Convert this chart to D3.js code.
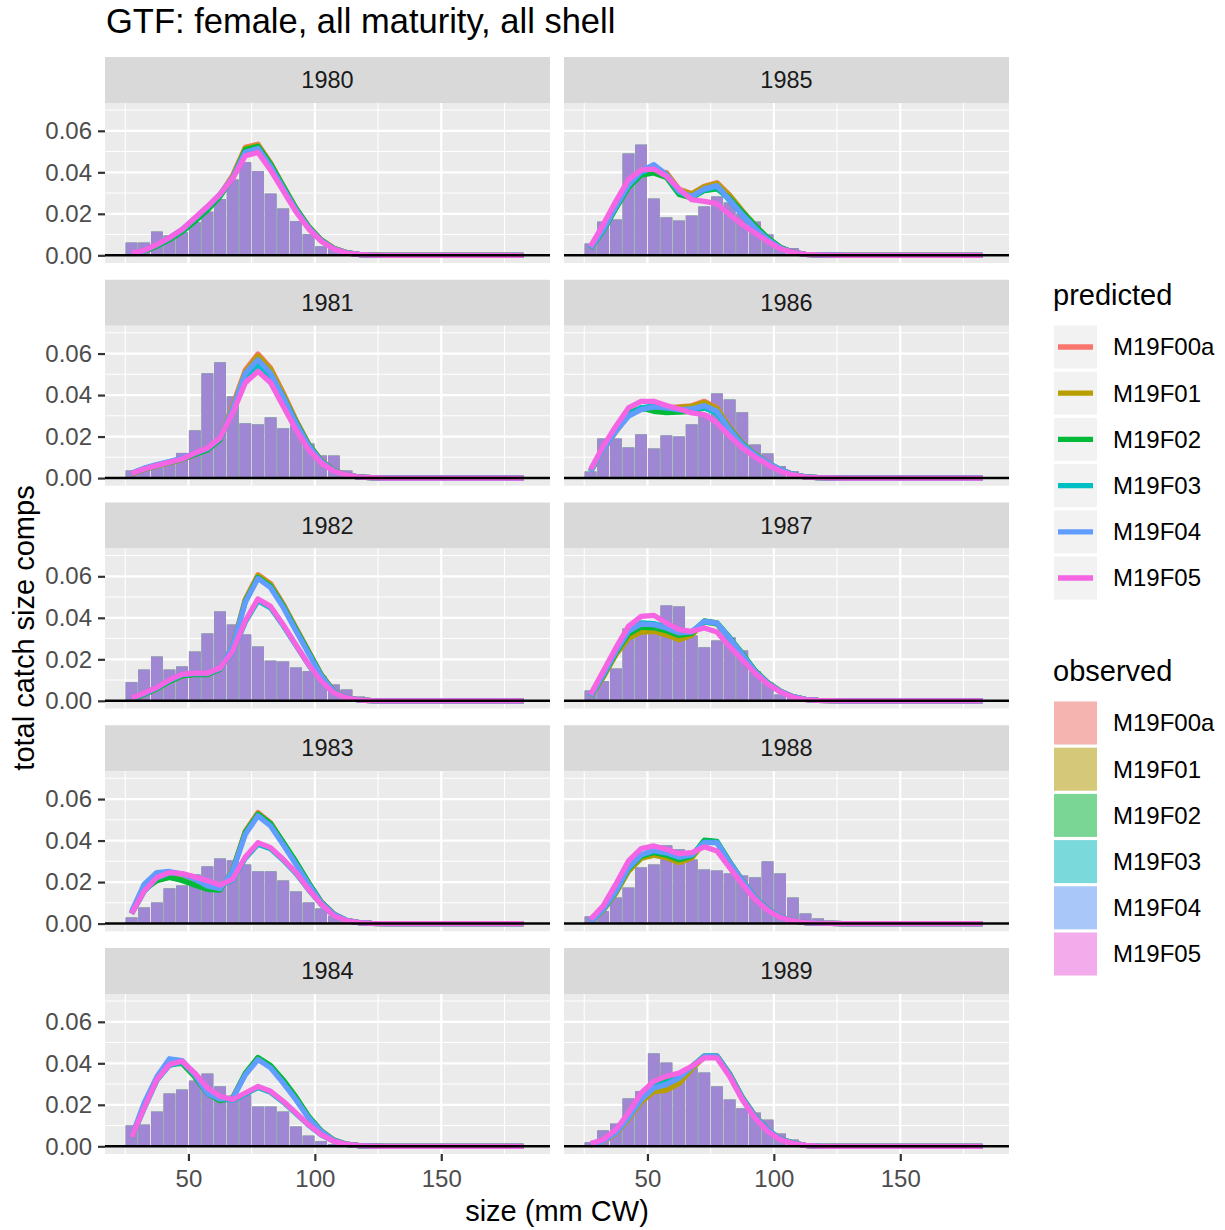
<!DOCTYPE html>
<html><head><meta charset="utf-8">
<script src="https://cdn.jsdelivr.net/npm/d3@7"></script>
<style>body{margin:0;background:#fff} text{font-family:"Liberation Sans",Arial,Helvetica,sans-serif}</style>
</head><body><svg id="chart" width="1225" height="1230"></svg>
<script>
// ---------- data ----------
const sizes = [27.5,32.5,37.5,42.5,47.5,52.5,57.5,62.5,67.5,72.5,77.5,82.5,87.5,92.5,97.5,102.5,107.5,112.5,117.5,122.5,127.5,132.5,137.5,142.5,147.5,152.5,157.5,162.5,167.5,172.5,177.5,182.5];
const binWidth = 5;
const years = ["1980","1981","1982","1983","1984","1985","1986","1987","1988","1989"];
const models = ["M19F00a","M19F01","M19F02","M19F03","M19F04","M19F05"];
const modelColors = ["#F8766D","#B79F00","#00BA38","#00BFC4","#619CFF","#F564E3"];
const yTicks = [0,0.02,0.04,0.06];
const yTickLabels = ["0.00","0.02","0.04","0.06"];
const yMinor = [0.01,0.03,0.05,0.07];
const xTicks = [50,100,150];
const xTickLabels = ["50","100","150"];
const xMinor = [25,75,125,175];

const obs1980 = [0.0061,0.0061,0.0114,0.0095,0.011,0.016,0.021,0.027,0.0365,0.0448,0.0405,0.0297,0.0225,0.0164,0.0101,0.0043,0.0037,0.0012,0.0005,0.0002,0,0,0,0,0,0,0,0,0,0,0,0];
const pred1980_F00a = [0.0009,0.0021,0.0046,0.0078,0.0118,0.017,0.0226,0.0292,0.0385,0.052,0.0535,0.0445,0.0335,0.0228,0.014,0.0075,0.0034,0.0013,0.0005,0.0002,0,0,0,0,0,0,0,0,0,0,0,0];
const pred1980_F01 = [0.0009,0.0021,0.0046,0.0078,0.0117,0.0168,0.0224,0.029,0.038,0.0515,0.053,0.0442,0.0333,0.0227,0.0139,0.0074,0.0034,0.0013,0.0005,0.0002,0,0,0,0,0,0,0,0,0,0,0,0];
const pred1980_F02 = [0.0008,0.002,0.0044,0.0075,0.0113,0.0163,0.0218,0.0283,0.0375,0.051,0.0525,0.044,0.0333,0.0227,0.0139,0.0074,0.0033,0.0012,0.0004,0.0001,0,0,0,0,0,0,0,0,0,0,0,0];
const pred1980_F03 = [0.001,0.0023,0.005,0.0083,0.0122,0.0176,0.0232,0.0293,0.0372,0.0495,0.051,0.0425,0.032,0.0218,0.0133,0.007,0.0031,0.0012,0.0004,0.0001,0,0,0,0,0,0,0,0,0,0,0,0];
const pred1980_F04 = [0.001,0.0023,0.0051,0.0084,0.0124,0.0178,0.0234,0.0295,0.0375,0.0497,0.0515,0.0428,0.0322,0.0219,0.0133,0.007,0.0031,0.0012,0.0004,0.0001,0,0,0,0,0,0,0,0,0,0,0,0];
const pred1980_F05 = [0.0011,0.0024,0.0052,0.0085,0.0125,0.018,0.0235,0.0295,0.037,0.048,0.0496,0.041,0.031,0.021,0.0128,0.0068,0.003,0.0011,0.0004,0.0001,0,0,0,0,0,0,0,0,0,0,0,0];

const obs1981 = [0.0036,0.004,0.005,0.0075,0.0121,0.0229,0.0504,0.0557,0.0393,0.0263,0.0258,0.0292,0.0239,0.0253,0.0166,0.0108,0.0108,0.0036,0.0017,0.0003,0,0,0,0,0,0,0,0,0,0,0,0];
const pred1981_F00a = [0.002,0.0042,0.0058,0.0074,0.009,0.0115,0.0138,0.019,0.035,0.052,0.0598,0.053,0.041,0.028,0.0165,0.0085,0.0037,0.0015,0.0005,0.0002,0,0,0,0,0,0,0,0,0,0,0,0];
const pred1981_F01 = [0.002,0.0042,0.0058,0.0074,0.009,0.0115,0.0138,0.0188,0.0345,0.0512,0.0588,0.0523,0.0405,0.0277,0.0163,0.0084,0.0037,0.0015,0.0005,0.0002,0,0,0,0,0,0,0,0,0,0,0,0];
const pred1981_F02 = [0.0021,0.0043,0.0059,0.0075,0.009,0.0113,0.0135,0.0185,0.0332,0.049,0.0548,0.0495,0.0392,0.0272,0.0162,0.0084,0.0036,0.0015,0.0005,0.0002,0,0,0,0,0,0,0,0,0,0,0,0];
const pred1981_F03 = [0.0023,0.0046,0.0062,0.0078,0.0094,0.0119,0.0142,0.0192,0.0325,0.0485,0.0535,0.0478,0.0365,0.0248,0.0146,0.0077,0.0034,0.0015,0.0005,0.0002,0,0,0,0,0,0,0,0,0,0,0,0];
const pred1981_F04 = [0.0024,0.0048,0.0065,0.008,0.0096,0.012,0.0143,0.0192,0.0335,0.0505,0.057,0.0505,0.039,0.0265,0.0156,0.008,0.0035,0.0014,0.0005,0.0002,0,0,0,0,0,0,0,0,0,0,0,0];
const pred1981_F05 = [0.0022,0.0044,0.006,0.0076,0.0092,0.012,0.0145,0.0194,0.0314,0.0459,0.0515,0.0459,0.0346,0.0234,0.0137,0.0073,0.0033,0.0015,0.0005,0.0002,0,0,0,0,0,0,0,0,0,0,0,0];

const obs1982 = [0.0089,0.015,0.0213,0.015,0.0165,0.0237,0.0324,0.043,0.0367,0.0319,0.0261,0.0193,0.0189,0.016,0.0142,0.0117,0.0078,0.0054,0.002,0.0005,0,0,0,0,0,0,0,0,0,0,0,0];
const pred1982_F00a = [0.001,0.0032,0.006,0.0095,0.0122,0.0128,0.0128,0.0155,0.0265,0.049,0.0608,0.0565,0.0466,0.0352,0.024,0.0127,0.0047,0.0015,0.0004,0.0001,0,0,0,0,0,0,0,0,0,0,0,0];
const pred1982_F01 = [0.001,0.0032,0.0059,0.0094,0.0121,0.0127,0.0127,0.0154,0.0263,0.0486,0.0603,0.056,0.0462,0.0349,0.0238,0.0126,0.0046,0.0015,0.0004,0.0001,0,0,0,0,0,0,0,0,0,0,0,0];
const pred1982_F02 = [0.0009,0.0031,0.0058,0.0093,0.012,0.0126,0.0126,0.0152,0.026,0.048,0.0595,0.0553,0.0457,0.0346,0.0236,0.0125,0.0046,0.0015,0.0004,0.0001,0,0,0,0,0,0,0,0,0,0,0,0];
const pred1982_F03 = [0.0013,0.0037,0.0064,0.0101,0.0128,0.0133,0.0133,0.0156,0.0235,0.038,0.0482,0.0447,0.0362,0.0267,0.0173,0.0093,0.0038,0.0014,0.0004,0.0001,0,0,0,0,0,0,0,0,0,0,0,0];
const pred1982_F04 = [0.0012,0.0035,0.0063,0.0099,0.0126,0.0131,0.0131,0.0157,0.0262,0.0475,0.059,0.0545,0.045,0.0338,0.0228,0.012,0.0044,0.0015,0.0004,0.0001,0,0,0,0,0,0,0,0,0,0,0,0];
const pred1982_F05 = [0.0014,0.0038,0.0065,0.0102,0.0129,0.0134,0.0134,0.0158,0.0239,0.0386,0.0491,0.0455,0.0367,0.027,0.0175,0.0094,0.0038,0.0014,0.0004,0.0001,0,0,0,0,0,0,0,0,0,0,0,0];

const obs1983 = [0.0029,0.0077,0.0101,0.0169,0.0183,0.0236,0.0275,0.0313,0.0304,0.0284,0.0251,0.0251,0.0207,0.0154,0.0101,0.0072,0.0037,0.0015,0.0005,0.0001,0,0,0,0,0,0,0,0,0,0,0,0];
const pred1983_F00a = [0.005,0.0165,0.021,0.0226,0.0212,0.019,0.017,0.0165,0.026,0.0445,0.0535,0.0485,0.039,0.0295,0.0195,0.0104,0.0046,0.0015,0.0005,0.0001,0,0,0,0,0,0,0,0,0,0,0,0];
const pred1983_F01 = [0.005,0.0164,0.0209,0.0225,0.0211,0.0189,0.0169,0.0164,0.0258,0.0442,0.053,0.0482,0.0389,0.0295,0.0195,0.0104,0.0046,0.0015,0.0005,0.0001,0,0,0,0,0,0,0,0,0,0,0,0];
const pred1983_F02 = [0.0049,0.0162,0.0207,0.0222,0.0208,0.0186,0.0165,0.0161,0.0256,0.044,0.0527,0.0482,0.0392,0.0299,0.0198,0.0105,0.0046,0.0015,0.0005,0.0001,0,0,0,0,0,0,0,0,0,0,0,0];
const pred1983_F03 = [0.0047,0.0155,0.022,0.0244,0.0239,0.0223,0.0204,0.0184,0.021,0.0315,0.0382,0.036,0.0305,0.0242,0.0163,0.0092,0.0037,0.0013,0.0004,0.0001,0,0,0,0,0,0,0,0,0,0,0,0];
const pred1983_F04 = [0.0058,0.019,0.0246,0.0251,0.0238,0.0214,0.0181,0.0168,0.0254,0.043,0.0519,0.047,0.038,0.0286,0.019,0.0101,0.0045,0.0015,0.0005,0.0001,0,0,0,0,0,0,0,0,0,0,0,0];
const pred1983_F05 = [0.0048,0.0157,0.0222,0.0246,0.0241,0.0225,0.0206,0.0186,0.0214,0.0321,0.039,0.0366,0.031,0.0246,0.0165,0.0093,0.0037,0.0013,0.0004,0.0001,0,0,0,0,0,0,0,0,0,0,0,0];

const obs1984 = [0.01,0.0104,0.0167,0.0254,0.0273,0.0316,0.035,0.0288,0.0235,0.0249,0.0191,0.0191,0.0167,0.0095,0.0051,0.0024,0.001,0.0004,0.0001,0,0,0,0,0,0,0,0,0,0,0,0,0];
const pred1984_F00a = [0.0043,0.0195,0.0325,0.04,0.0405,0.034,0.026,0.0222,0.0235,0.035,0.0425,0.0385,0.0315,0.0235,0.0142,0.0074,0.003,0.001,0.0003,0.0001,0,0,0,0,0,0,0,0,0,0,0,0];
const pred1984_F01 = [0.0043,0.0194,0.0323,0.0398,0.0403,0.0338,0.0259,0.0221,0.0234,0.0348,0.0423,0.0384,0.0316,0.0236,0.0143,0.0074,0.003,0.001,0.0003,0.0001,0,0,0,0,0,0,0,0,0,0,0,0];
const pred1984_F02 = [0.0042,0.0192,0.032,0.0395,0.04,0.0335,0.0255,0.022,0.0232,0.0352,0.0428,0.039,0.032,0.0238,0.0145,0.0075,0.003,0.001,0.0003,0.0001,0,0,0,0,0,0,0,0,0,0,0,0];
const pred1984_F03 = [0.0042,0.0183,0.0318,0.039,0.0406,0.035,0.0278,0.0238,0.0221,0.0252,0.0283,0.026,0.0213,0.0158,0.0102,0.0055,0.0024,0.0009,0.0003,0.0001,0,0,0,0,0,0,0,0,0,0,0,0];
const pred1984_F04 = [0.0045,0.0209,0.0335,0.0422,0.0413,0.0345,0.0257,0.0228,0.0232,0.0345,0.0418,0.0378,0.0305,0.0225,0.0137,0.0072,0.0029,0.001,0.0003,0.0001,0,0,0,0,0,0,0,0,0,0,0,0];
const pred1984_F05 = [0.0043,0.0185,0.0321,0.0394,0.041,0.0353,0.0281,0.0241,0.0225,0.0257,0.0289,0.0265,0.0217,0.0161,0.0104,0.0056,0.0024,0.0009,0.0003,0.0001,0,0,0,0,0,0,0,0,0,0,0,0];

const obs1985 = [0.0056,0.0162,0.0172,0.049,0.0533,0.0273,0.0182,0.0167,0.0191,0.0235,0.0283,0.0254,0.0201,0.0162,0.01,0.0043,0.0035,0.0012,0.0004,0.0001,0,0,0,0,0,0,0,0,0,0,0,0];
const pred1985_F00a = [0.0034,0.012,0.023,0.0332,0.039,0.0405,0.0398,0.0318,0.0297,0.0333,0.035,0.029,0.0215,0.0145,0.0083,0.0038,0.0015,0.0005,0.0002,0.0001,0,0,0,0,0,0,0,0,0,0,0,0];
const pred1985_F01 = [0.0034,0.012,0.0229,0.033,0.0388,0.0402,0.0395,0.0316,0.0295,0.033,0.0346,0.0288,0.0214,0.0145,0.0083,0.0038,0.0015,0.0005,0.0002,0.0001,0,0,0,0,0,0,0,0,0,0,0,0];
const pred1985_F02 = [0.0033,0.0118,0.0226,0.0327,0.0386,0.0397,0.0375,0.0293,0.0277,0.0312,0.032,0.0275,0.021,0.0146,0.0085,0.0039,0.0015,0.0005,0.0002,0.0001,0,0,0,0,0,0,0,0,0,0,0,0];
const pred1985_F03 = [0.0035,0.0123,0.0234,0.0337,0.0398,0.0425,0.0385,0.0305,0.028,0.0315,0.033,0.0265,0.0195,0.0132,0.0076,0.0035,0.0014,0.0005,0.0002,0.0001,0,0,0,0,0,0,0,0,0,0,0,0];
const pred1985_F04 = [0.0035,0.0124,0.0236,0.034,0.0405,0.0437,0.0389,0.0308,0.0284,0.032,0.0336,0.0268,0.0196,0.0132,0.0076,0.0035,0.0014,0.0005,0.0002,0.0001,0,0,0,0,0,0,0,0,0,0,0,0];
const pred1985_F05 = [0.0043,0.0148,0.026,0.0365,0.041,0.0416,0.0381,0.032,0.0268,0.026,0.0249,0.0196,0.0148,0.0108,0.0067,0.0032,0.0014,0.0005,0.0002,0.0001,0,0,0,0,0,0,0,0,0,0,0,0];

const obs1986 = [0.0031,0.019,0.019,0.0147,0.021,0.0142,0.0205,0.02,0.0258,0.031,0.0407,0.0378,0.0316,0.0161,0.0118,0.0057,0.0033,0.0012,0.0004,0.0001,0,0,0,0,0,0,0,0,0,0,0,0];
const pred1986_F00a = [0.0032,0.0135,0.0225,0.0305,0.0335,0.0335,0.0338,0.0343,0.0348,0.037,0.0338,0.0245,0.0168,0.0116,0.0074,0.0041,0.0017,0.0006,0.0002,0.0001,0,0,0,0,0,0,0,0,0,0,0,0];
const pred1986_F01 = [0.0032,0.0135,0.0224,0.0304,0.0333,0.0333,0.0336,0.0341,0.0345,0.0365,0.0335,0.0243,0.0167,0.0116,0.0074,0.0041,0.0017,0.0006,0.0002,0.0001,0,0,0,0,0,0,0,0,0,0,0,0];
const pred1986_F02 = [0.0034,0.014,0.0232,0.0314,0.0338,0.0322,0.0315,0.0318,0.0322,0.0338,0.0318,0.0238,0.0166,0.0115,0.0073,0.0041,0.0017,0.0006,0.0002,0.0001,0,0,0,0,0,0,0,0,0,0,0,0];
const pred1986_F03 = [0.0035,0.014,0.023,0.0305,0.0338,0.0348,0.034,0.0328,0.0328,0.034,0.0312,0.0228,0.0158,0.0111,0.0072,0.004,0.0017,0.0006,0.0002,0.0001,0,0,0,0,0,0,0,0,0,0,0,0];
const pred1986_F04 = [0.0033,0.0137,0.0226,0.0298,0.033,0.0343,0.0338,0.033,0.0333,0.0349,0.0322,0.0234,0.0161,0.0113,0.0073,0.0041,0.0017,0.0006,0.0002,0.0001,0,0,0,0,0,0,0,0,0,0,0,0];
const pred1986_F05 = [0.0041,0.0153,0.025,0.0338,0.037,0.037,0.035,0.0333,0.0314,0.0306,0.0266,0.0202,0.0145,0.0102,0.0065,0.0033,0.0015,0.0005,0.0002,0.0001,0,0,0,0,0,0,0,0,0,0,0,0];

const obs1987 = [0.0049,0.0094,0.0155,0.0348,0.0332,0.0324,0.0459,0.0454,0.0314,0.0257,0.029,0.0305,0.0242,0.0141,0.0088,0.003,0.0019,0.0014,0.0005,0.0001,0,0,0,0,0,0,0,0,0,0,0,0];
const pred1987_F00a = [0.0019,0.0115,0.0225,0.0305,0.0334,0.0338,0.032,0.0296,0.0318,0.0384,0.0372,0.0303,0.0225,0.0145,0.0088,0.0047,0.002,0.0007,0.0002,0.0001,0,0,0,0,0,0,0,0,0,0,0,0];
const pred1987_F01 = [0.0019,0.0114,0.0222,0.0302,0.0331,0.0335,0.0318,0.0294,0.0316,0.038,0.037,0.0302,0.0225,0.0145,0.0088,0.0047,0.002,0.0007,0.0002,0.0001,0,0,0,0,0,0,0,0,0,0,0,0];
const pred1987_F02 = [0.0021,0.012,0.0232,0.0322,0.0355,0.0352,0.0338,0.0315,0.0325,0.0385,0.0376,0.0306,0.0228,0.0147,0.0089,0.0047,0.002,0.0007,0.0002,0.0001,0,0,0,0,0,0,0,0,0,0,0,0];
const pred1987_F03 = [0.0023,0.0128,0.024,0.0338,0.0375,0.0372,0.0355,0.033,0.0333,0.038,0.0372,0.03,0.0221,0.0141,0.0085,0.0045,0.0019,0.0007,0.0002,0.0001,0,0,0,0,0,0,0,0,0,0,0,0];
const pred1987_F04 = [0.0022,0.0126,0.0238,0.0335,0.037,0.0367,0.0351,0.0327,0.0332,0.0383,0.0375,0.0303,0.0223,0.0142,0.0086,0.0046,0.002,0.0007,0.0002,0.0001,0,0,0,0,0,0,0,0,0,0,0,0];
const pred1987_F05 = [0.003,0.0142,0.0255,0.0359,0.0407,0.0412,0.0375,0.0343,0.0335,0.0351,0.0332,0.0262,0.0198,0.0134,0.0081,0.0043,0.0017,0.0006,0.0002,0.0001,0,0,0,0,0,0,0,0,0,0,0,0];

const obs1988 = [0.0034,0.006,0.0125,0.0173,0.027,0.0284,0.0376,0.0357,0.0308,0.026,0.0255,0.0241,0.0231,0.0222,0.0299,0.0241,0.0125,0.0048,0.0024,0.0005,0,0,0,0,0,0,0,0,0,0,0,0];
const pred1988_F00a = [0.001,0.0064,0.0148,0.0255,0.0316,0.0333,0.032,0.0296,0.0318,0.0395,0.0393,0.0298,0.0208,0.0126,0.007,0.0032,0.0013,0.0005,0.0002,0.0001,0,0,0,0,0,0,0,0,0,0,0,0];
const pred1988_F01 = [0.001,0.0063,0.0146,0.0252,0.0314,0.033,0.0318,0.0294,0.0316,0.0393,0.039,0.0296,0.0207,0.0126,0.007,0.0032,0.0013,0.0005,0.0002,0.0001,0,0,0,0,0,0,0,0,0,0,0,0];
const pred1988_F02 = [0.0011,0.0067,0.0154,0.0264,0.0324,0.0343,0.033,0.0308,0.0325,0.0402,0.0396,0.0298,0.0208,0.0126,0.007,0.0032,0.0013,0.0005,0.0002,0.0001,0,0,0,0,0,0,0,0,0,0,0,0];
const pred1988_F03 = [0.0011,0.0068,0.0156,0.0268,0.033,0.035,0.034,0.0318,0.033,0.0392,0.0392,0.0295,0.0206,0.0125,0.0069,0.0032,0.0013,0.0005,0.0002,0.0001,0,0,0,0,0,0,0,0,0,0,0,0];
const pred1988_F04 = [0.001,0.0069,0.0157,0.027,0.0331,0.0353,0.0342,0.0321,0.0331,0.039,0.039,0.0294,0.0206,0.0125,0.0069,0.0032,0.0013,0.0005,0.0002,0.0001,0,0,0,0,0,0,0,0,0,0,0,0];
const pred1988_F05 = [0.0021,0.0085,0.019,0.0302,0.0361,0.0374,0.0358,0.0337,0.0342,0.037,0.035,0.027,0.019,0.0117,0.0064,0.0029,0.0013,0.0005,0.0002,0.0001,0,0,0,0,0,0,0,0,0,0,0,0];

const obs1989 = [0.0019,0.0076,0.0109,0.023,0.0265,0.0447,0.0403,0.0345,0.0379,0.0355,0.0288,0.0225,0.0182,0.0162,0.0128,0.0061,0.0032,0.0013,0.0004,0.0001,0,0,0,0,0,0,0,0,0,0,0,0];
const pred1989_F00a = [0.0007,0.0022,0.006,0.013,0.0215,0.0265,0.0273,0.0305,0.0375,0.0432,0.0435,0.0348,0.0235,0.0147,0.0081,0.0036,0.0016,0.0005,0.0001,0,0,0,0,0,0,0,0,0,0,0,0,0];
const pred1989_F01 = [0.0007,0.0022,0.006,0.013,0.0214,0.0263,0.0271,0.0303,0.0373,0.043,0.0433,0.0347,0.0235,0.0147,0.0081,0.0036,0.0016,0.0005,0.0001,0,0,0,0,0,0,0,0,0,0,0,0,0];
const pred1989_F02 = [0.001,0.0028,0.0072,0.0148,0.0242,0.0298,0.0313,0.0335,0.0383,0.0436,0.0436,0.035,0.0236,0.0147,0.0081,0.0036,0.0016,0.0005,0.0001,0,0,0,0,0,0,0,0,0,0,0,0,0];
const pred1989_F03 = [0.0009,0.0026,0.0068,0.0142,0.0233,0.029,0.0305,0.0333,0.0384,0.0433,0.0433,0.0344,0.0232,0.0144,0.0079,0.0035,0.0015,0.0005,0.0001,0,0,0,0,0,0,0,0,0,0,0,0,0];
const pred1989_F04 = [0.0008,0.0024,0.0064,0.0137,0.0225,0.0281,0.0297,0.0329,0.0382,0.0434,0.0434,0.0345,0.0233,0.0145,0.008,0.0035,0.0016,0.0005,0.0001,0,0,0,0,0,0,0,0,0,0,0,0,0];
const pred1989_F05 = [0.0013,0.0032,0.008,0.0161,0.0257,0.0313,0.0337,0.0353,0.0386,0.0426,0.0426,0.0337,0.0225,0.0137,0.0072,0.0032,0.0013,0.0004,0.0001,0,0,0,0,0,0,0,0,0,0,0,0,0];

const observedByYear = [obs1980,obs1981,obs1982,obs1983,obs1984,obs1985,obs1986,obs1987,obs1988,obs1989];
const predictedByYear = [
  [pred1980_F00a,pred1980_F01,pred1980_F02,pred1980_F03,pred1980_F04,pred1980_F05],
  [pred1981_F00a,pred1981_F01,pred1981_F02,pred1981_F03,pred1981_F04,pred1981_F05],
  [pred1982_F00a,pred1982_F01,pred1982_F02,pred1982_F03,pred1982_F04,pred1982_F05],
  [pred1983_F00a,pred1983_F01,pred1983_F02,pred1983_F03,pred1983_F04,pred1983_F05],
  [pred1984_F00a,pred1984_F01,pred1984_F02,pred1984_F03,pred1984_F04,pred1984_F05],
  [pred1985_F00a,pred1985_F01,pred1985_F02,pred1985_F03,pred1985_F04,pred1985_F05],
  [pred1986_F00a,pred1986_F01,pred1986_F02,pred1986_F03,pred1986_F04,pred1986_F05],
  [pred1987_F00a,pred1987_F01,pred1987_F02,pred1987_F03,pred1987_F04,pred1987_F05],
  [pred1988_F00a,pred1988_F01,pred1988_F02,pred1988_F03,pred1988_F04,pred1988_F05],
  [pred1989_F00a,pred1989_F01,pred1989_F02,pred1989_F03,pred1989_F04,pred1989_F05]
];

// ---------- layout ----------
const svg = d3.select("#chart");
svg.append("rect").attr("width",1225).attr("height",1230).attr("fill","#ffffff");

const panelW = 445, panelH = 160, stripH = 46, rowStep = 222.75;
const colX = [105, 564];
const firstStripY = 57;
const FONT = '"Liberation Sans", Arial, Helvetica, sans-serif';

const x = d3.scaleLinear().domain([17,193]).range([0,panelW]);
const y = d3.scaleLinear().domain([-0.0037,0.0734]).range([panelH,0]);
const line = d3.line().x(d => x(d.s)).y(d => y(d.v)).curve(d3.curveLinear);

years.forEach((yr, i) => {
  const col = Math.floor(i / 5), row = i % 5;
  const px = colX[col];
  const stripY = firstStripY + row * rowStep;
  const py = stripY + stripH;

  // strip
  svg.append("rect").attr("x",px).attr("y",stripY).attr("width",panelW).attr("height",stripH).attr("fill","#d9d9d9");
  svg.append("text").attr("x",px+panelW/2).attr("y",stripY+stripH/2).attr("dy","0.35em")
    .attr("text-anchor","middle").attr("font-size",23.5).attr("fill","#1a1a1a").text(yr);

  const g = svg.append("g").attr("transform",`translate(${px},${py})`);
  g.append("rect").attr("width",panelW).attr("height",panelH).attr("fill","#ebebeb");

  // grid
  g.selectAll(".xmin").data(xMinor).join("line")
    .attr("x1",d=>x(d)).attr("x2",d=>x(d)).attr("y1",0).attr("y2",panelH)
    .attr("stroke","#ffffff").attr("stroke-width",1.1);
  g.selectAll(".ymin").data(yMinor).join("line")
    .attr("y1",d=>y(d)).attr("y2",d=>y(d)).attr("x1",0).attr("x2",panelW)
    .attr("stroke","#ffffff").attr("stroke-width",1.1);
  g.selectAll(".xmaj").data(xTicks).join("line")
    .attr("x1",d=>x(d)).attr("x2",d=>x(d)).attr("y1",0).attr("y2",panelH)
    .attr("stroke","#ffffff").attr("stroke-width",2.2);
  g.selectAll(".ymaj").data(yTicks).join("line")
    .attr("y1",d=>y(d)).attr("y2",d=>y(d)).attr("x1",0).attr("x2",panelW)
    .attr("stroke","#ffffff").attr("stroke-width",2.2);

  // observed bars: one semi-transparent layer per model
  const obs = observedByYear[i];
  const barData = sizes.map((s,k) => ({s, v: obs[k]})).filter(d => d.v > 0);
  models.forEach((m, mi) => {
    g.append("g").selectAll("rect").data(barData).join("rect")
      .attr("x", d => x(d.s - binWidth/2) + 0.5)
      .attr("width", d => x(d.s + binWidth/2) - x(d.s - binWidth/2) - 1)
      .attr("y", d => y(d.v))
      .attr("height", d => y(0) - y(d.v))
      .attr("fill", modelColors[mi]).attr("fill-opacity", 0.5);
  });

  // predicted lines
  predictedByYear[i].forEach((arr, mi) => {
    const pts = sizes.map((s,k) => ({s, v: arr[k]}));
    g.append("path").datum(pts).attr("d", line)
      .attr("fill","none").attr("stroke", modelColors[mi]).attr("stroke-width", 5.3)
      .attr("stroke-linejoin","round").attr("stroke-linecap","butt");
  });

  // zero line
  g.append("line").attr("x1",0).attr("x2",panelW).attr("y1",y(0)).attr("y2",y(0))
    .attr("stroke","#000000").attr("stroke-width",2.6);

  // y axis (left column)
  if (col === 0) {
    const ya = d3.axisLeft(y).tickValues(yTicks).tickFormat((d,j)=>yTickLabels[j]).tickSize(7).tickPadding(6);
    const ag = g.append("g").call(ya);
    ag.select(".domain").remove();
    ag.selectAll("line").attr("stroke","#333333").attr("stroke-width",2.2);
    ag.selectAll("text").attr("font-size",24).attr("fill","#4d4d4d").attr("font-family",FONT);
  }
  // x axis (bottom row)
  if (row === 4) {
    const xa = d3.axisBottom(x).tickValues(xTicks).tickFormat((d,j)=>xTickLabels[j]).tickSize(7).tickPadding(9);
    const ag = g.append("g").attr("transform",`translate(0,${panelH})`).call(xa);
    ag.select(".domain").remove();
    ag.selectAll("line").attr("stroke","#333333").attr("stroke-width",2.2);
    ag.selectAll("text").attr("font-size",24).attr("fill","#4d4d4d").attr("font-family",FONT);
  }
});

// titles
svg.append("text").attr("x",106).attr("y",33).attr("font-size",34.5).attr("fill","#000")
  .text("GTF: female, all maturity, all shell");
svg.append("text").attr("x",(colX[0]+colX[1]+panelW)/2).attr("y",1221).attr("text-anchor","middle")
  .attr("font-size",29).attr("fill","#000").text("size (mm CW)");
svg.append("text").attr("transform","translate(34,628) rotate(-90)").attr("text-anchor","middle")
  .attr("font-size",29).attr("fill","#000").text("total catch size comps");

// legends
const keyX = 1054, keyW = 43, keyH = 43, keyStep = 46.2;
const predTitleY = 305, predFirst = 347;
const obsTitleY = 681, obsFirst = 723;

svg.append("text").attr("x",1053).attr("y",predTitleY).attr("font-size",29).attr("fill","#000").text("predicted");
models.forEach((m, mi) => {
  const cy = predFirst + mi*keyStep;
  svg.append("rect").attr("x",keyX).attr("y",cy-keyH/2).attr("width",keyW).attr("height",keyH).attr("fill","#f2f2f2");
  svg.append("line").attr("x1",keyX+4).attr("x2",keyX+keyW-4).attr("y1",cy).attr("y2",cy)
    .attr("stroke",modelColors[mi]).attr("stroke-width",5.3);
  svg.append("text").attr("x",1113).attr("y",cy).attr("dy","0.35em").attr("font-size",24).attr("fill","#000").text(m);
});

svg.append("text").attr("x",1053).attr("y",obsTitleY).attr("font-size",29).attr("fill","#000").text("observed");
models.forEach((m, mi) => {
  const cy = obsFirst + mi*keyStep;
  svg.append("rect").attr("x",keyX).attr("y",cy-keyH/2).attr("width",keyW).attr("height",keyH).attr("fill","#f2f2f2");
  svg.append("rect").attr("x",keyX).attr("y",cy-keyH/2).attr("width",keyW).attr("height",keyH)
    .attr("fill",modelColors[mi]).attr("fill-opacity",0.5);
  svg.append("text").attr("x",1113).attr("y",cy).attr("dy","0.35em").attr("font-size",24).attr("fill","#000").text(m);
});
</script>
</body></html>
